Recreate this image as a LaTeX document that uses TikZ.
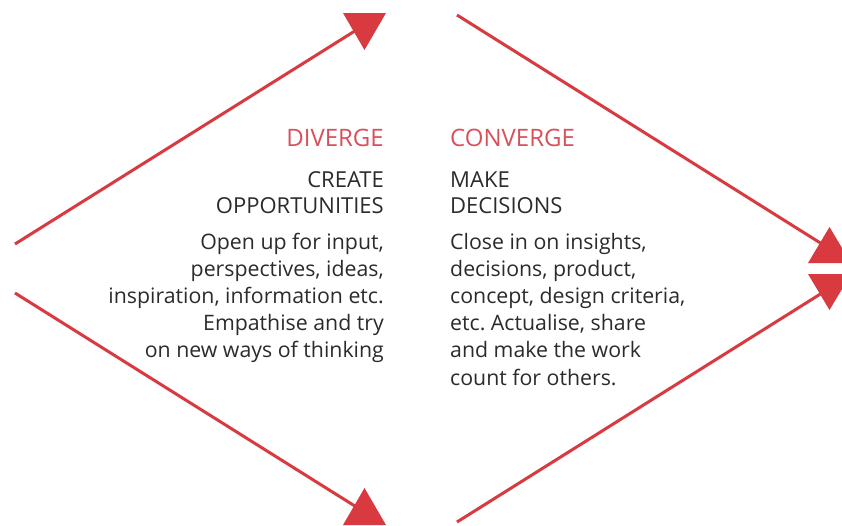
\documentclass[tikz,border=0pt]{standalone}
\usepackage{fontspec}
\setmainfont{Open Sans}
\frenchspacing
\definecolor{dred}{HTML}{D93A3F}
\definecolor{tred}{HTML}{D9505A}
\definecolor{tgray}{HTML}{2B2B2B}
\begin{document}
\begin{tikzpicture}[x=1pt,y=-1pt,
  conn/.style={draw=dred,line width=3pt},
  head/.style={fill=dred,draw=none},
  ttl/.style={text=tred,font=\fontsize{24}{27}\selectfont\frenchspacing,inner sep=0pt},
  hdr/.style={text=tgray,font=\fontsize{22}{27}\selectfont\frenchspacing,inner sep=0pt},
  txt/.style={text=tgray,font=\fontsize{21.3}{27}\selectfont\frenchspacing,inner sep=0pt}]
\useasboundingbox (0,0) rectangle (842,525);
% arrowheads
\fill[head] (343,13) -- (386,13) -- (364.5,50) -- cycle;
\fill[head] (343,525) -- (386,525) -- (364.5,488) -- cycle;
\fill[head] (808,263) -- (851,263) -- (829.5,227) -- cycle;
\fill[head] (808,274) -- (851,274) -- (829.5,310) -- cycle;
% coordinates
\coordinate (ls1) at (15,244);
\coordinate (le1) at (358,29);
\coordinate (ls2) at (15,293);
\coordinate (le2) at (358,508);
\coordinate (rs1) at (457,15);
\coordinate (re1) at (822,244);
\coordinate (rs2) at (457,522);
\coordinate (re2) at (822,293);
\draw[conn] (ls1) -- (le1);
\draw[conn] (ls2) -- (le2);
\draw[conn] (rs1) -- (re1);
\draw[conn] (rs2) -- (re2);
% left text
\node[ttl,anchor=base east] (dv) at (384,146) {DIVERGE};
\node[hdr,anchor=base east] (c1) at (384,187) {CREATE};
\node[hdr,anchor=base east] (c2) at (384,213) {OPPORTUNITIES};
\node[txt,anchor=base east] (l1) at (384,249) {Open up for input,};
\node[txt,anchor=base east] (l2) at (384,276) {perspectives, ideas,};
\node[txt,anchor=base east] (l3) at (384,303) {inspiration, information etc.};
\node[txt,anchor=base east] (l4) at (384,330) {Empathise and try};
\node[txt,anchor=base east] (l5) at (384,357) {on new ways of thinking};
% right text
\node[ttl,anchor=base west] (cv) at (450,146) {CONVERGE};
\node[hdr,anchor=base west] (m1) at (450,187) {MAKE};
\node[hdr,anchor=base west] (m2) at (450,213) {DECISIONS};
\node[txt,anchor=base west] (r1) at (450,249) {Close in on insights,};
\node[txt,anchor=base west] (r2) at (450,276) {decisions, product,};
\node[txt,anchor=base west] (r3) at (450,303) {concept, design criteria,};
\node[txt,anchor=base west] (r4) at (450,330) {etc. Actualise, share};
\node[txt,anchor=base west] (r5) at (450,357) {and make the work};
\node[txt,anchor=base west] (r6) at (450,385) {count for others.};
\end{tikzpicture}
\end{document}
